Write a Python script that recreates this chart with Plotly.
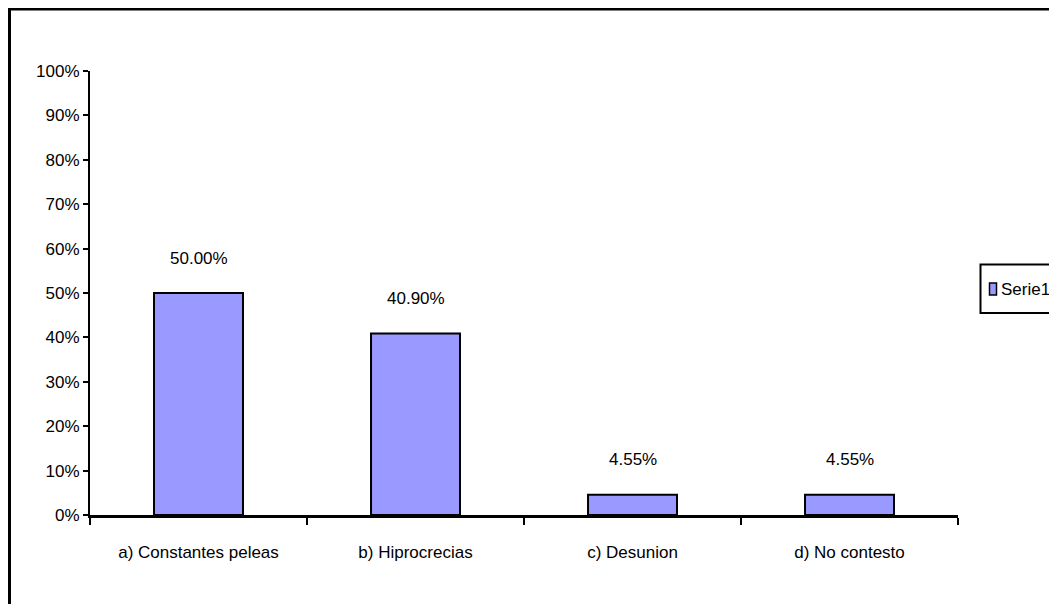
import plotly.graph_objects as go

categories = ["a) Constantes peleas", "b) Hiprocrecias", "c) Desunion", "d) No contesto"]
values = [0.50, 0.409, 0.0455, 0.0455]
value_labels = ["50.00%", "40.90%", "4.55%", "4.55%"]
series_name = "Serie1"
y_ticks = [0, 0.1, 0.2, 0.3, 0.4, 0.5, 0.6, 0.7, 0.8, 0.9, 1.0]

FONT = "Liberation Sans Narrow, Arial Narrow, Liberation Sans, Arial, sans-serif"
FS = 17
BAR_COLOR = "#9999FF"

# the page body has an 8px margin; size the figure so it fits the window
OFF = 8
W, H = 1057 - 2 * OFF, 612 - 2 * OFF
L, T = 90 - OFF, 71 - OFF
R = W - (958 - OFF)
B = H - (515 - OFF)
pw, ph = W - L - R, H - T - B

def px_x(x):
    return (x - OFF - L) / pw

def px_y(y):
    return (H - B - (y - OFF)) / ph

fig = go.Figure()
fig.add_trace(go.Bar(
    x=categories, y=values, name=series_name,
    marker=dict(color=BAR_COLOR, line=dict(color="black", width=2)),
    showlegend=False,
))

for c, v, t in zip(categories, values, value_labels):
    fig.add_annotation(x=c, y=v, text=t, showarrow=False, yanchor="middle",
                       yshift=35, font=dict(family=FONT, size=FS, color="black"))

# outer chart border (cropped at right and bottom in the reference)
fig.add_shape(type="rect", xref="paper", yref="paper",
              x0=px_x(9.5), x1=px_x(1080), y0=px_y(640), y1=px_y(9),
              line=dict(color="black", width=3), fillcolor="rgba(0,0,0,0)")

# legend box
fig.add_shape(type="rect", xref="paper", yref="paper",
              x0=px_x(980.5), x1=px_x(1056), y0=px_y(313), y1=px_y(264.5),
              line=dict(color="black", width=2), fillcolor="white")
fig.add_shape(type="rect", xref="paper", yref="paper",
              x0=px_x(989.5), x1=px_x(996.5), y0=px_y(295), y1=px_y(283),
              line=dict(color="black", width=1.5), fillcolor=BAR_COLOR)
fig.add_annotation(xref="paper", yref="paper", x=px_x(999), y=px_y(289),
                   xanchor="left", yanchor="middle", text=series_name,
                   showarrow=False, font=dict(family=FONT, size=FS, color="black"))

fig.update_layout(
    width=W, height=H,
    margin=dict(l=L, r=R, t=T, b=B, autoexpand=False),
    paper_bgcolor="white", plot_bgcolor="white",
    font=dict(family=FONT, size=FS, color="black"),
    bargap=0.59,
    showlegend=False,
    xaxis=dict(showline=True, linecolor="black", linewidth=3,
               ticks="outside", tickson="boundaries", ticklen=7, tickwidth=2,
               tickcolor="black", showgrid=False, ticklabelstandoff=20),
    yaxis=dict(range=[0, 1], tickvals=y_ticks, tickformat=".0%",
               showline=True, linecolor="black", linewidth=2,
               ticks="outside", ticklen=5, tickwidth=2, tickcolor="black",
               showgrid=False, zeroline=False),
)

fig.write_html("out.html")
